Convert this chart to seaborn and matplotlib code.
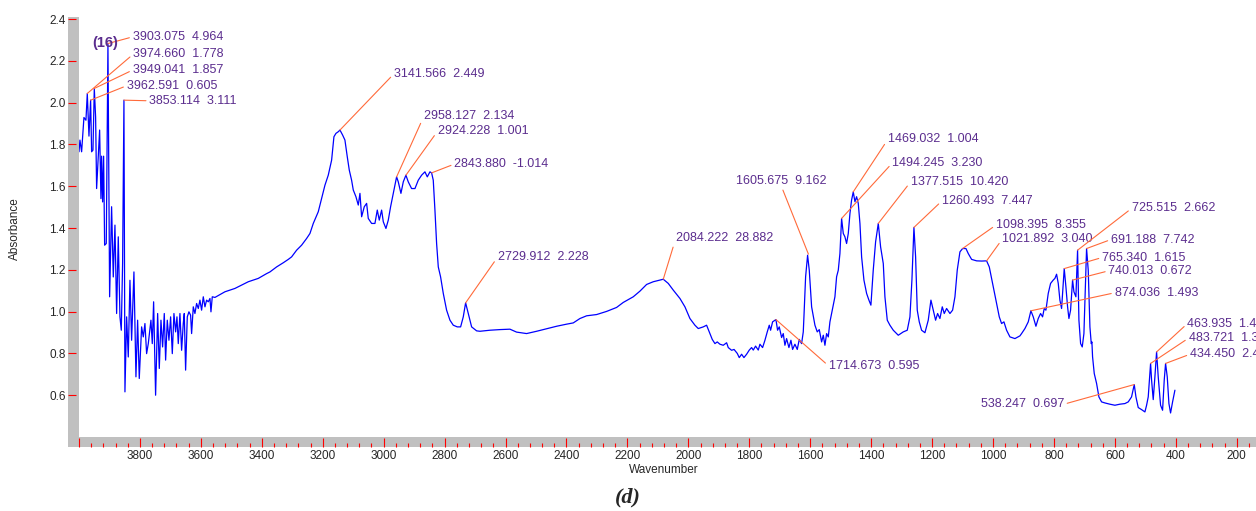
import pandas as pd
import seaborn as sns
import matplotlib
matplotlib.use("Agg")
import matplotlib.pyplot as plt
from matplotlib.patches import Rectangle
from matplotlib.ticker import MultipleLocator, FixedLocator, FuncFormatter

sns.set_theme(style="white")
plt.rcParams['font.family'] = ['Liberation Sans', 'DejaVu Sans']

# spectrum (wavenumber, absorbance)
wavenumber = [
    4000.0, 3996.9, 3991.4, 3983.8, 3977.2, 3972.8, 3967.3, 3961.9, 3958.6, 3954.2,
    3949.8, 3945.5, 3942.2, 3936.7, 3932.3, 3928.0, 3925.8, 3922.5, 3919.2, 3915.9,
    3910.5, 3905.0, 3899.5, 3893.0, 3887.5, 3882.0, 3876.5, 3871.1, 3865.6, 3861.2,
    3856.9, 3852.5, 3849.2, 3843.7, 3838.3, 3832.8, 3827.3, 3819.7, 3813.1, 3807.6,
    3802.2, 3794.5, 3789.0, 3783.6, 3778.1, 3772.6, 3763.9, 3759.5, 3755.1, 3748.6,
    3741.9, 3736.5, 3731.0, 3725.6, 3720.1, 3715.7, 3710.3, 3704.8, 3699.3, 3693.8,
    3688.4, 3682.9, 3678.5, 3674.2, 3668.7, 3663.2, 3657.8, 3654.5, 3650.1, 3644.6,
    3639.2, 3633.7, 3630.4, 3624.9, 3619.5, 3614.0, 3608.5, 3603.1, 3597.6, 3592.1,
    3586.6, 3581.2, 3575.7, 3570.2, 3566.9, 3562.6, 3553.8, 3521.0, 3488.2, 3466.3,
    3444.4, 3411.6, 3384.2,
    3373.3, 3351.4, 3329.5, 3313.1, 3302.2, 3285.8, 3269.4, 3253.0, 3242.0, 3231.1,
    3214.7, 3203.7, 3192.8, 3181.9, 3170.9, 3163.3, 3156.7, 3149.0, 3143.5, 3134.8,
    3127.2, 3119.5, 3112.9, 3105.3, 3099.8, 3091.1, 3083.4, 3077.9, 3072.4, 3063.7,
    3056.0, 3050.6, 3039.6, 3028.7, 3021.0, 3014.5, 3006.8, 3001.3, 2992.6, 2984.9,
    2977.3, 2968.5, 2957.6, 2952.1, 2943.4, 2935.7, 2927.0, 2919.3, 2908.4, 2897.4,
    2886.5, 2875.5, 2864.6, 2856.9, 2848.2, 2842.7, 2837.3, 2831.8, 2826.3, 2820.8,
    2813.2, 2804.4, 2793.5, 2782.5, 2771.6, 2758.5, 2747.5, 2738.8, 2731.1, 2722.4,
    2711.4, 2695.0,
    2684.1, 2651.3, 2618.5, 2585.6, 2563.8, 2531.0, 2498.1, 2465.3, 2432.5, 2399.7,
    2377.8, 2355.9, 2334.0, 2301.2, 2268.4, 2235.6, 2213.7, 2180.9, 2159.0, 2137.1,
    2115.3, 2093.4, 2082.4, 2066.0, 2049.6, 2027.7, 2011.3, 1994.9, 1978.5, 1967.5,
    1951.1, 1940.2, 1929.3, 1921.6, 1912.8, 1905.2, 1896.4, 1885.5, 1874.5, 1869.1,
    1858.1, 1850.0, 1839.5, 1833.0, 1825.3, 1817.6, 1808.9, 1800.1, 1792.5, 1787.0,
    1779.4, 1770.6, 1765.1, 1756.4, 1748.7, 1741.1, 1734.5, 1730.1, 1723.6, 1712.6,
    1707.2, 1701.7, 1694.0, 1688.6, 1683.1, 1677.6, 1670.0, 1663.4, 1657.9, 1650.3,
    1642.6, 1636.0, 1628.4, 1622.9, 1620.7, 1615.2, 1608.7, 1603.2, 1595.5, 1584.6,
    1577.0, 1570.4, 1562.7, 1557.2, 1551.8, 1546.3, 1540.8, 1535.4,
    1529.9, 1519.0, 1513.5, 1508.0, 1502.6, 1497.1, 1491.6, 1486.2, 1480.7, 1475.2,
    1469.7, 1464.3, 1458.8, 1453.3, 1447.9, 1442.4, 1436.9, 1431.4, 1423.8, 1415.0,
    1407.4, 1400.9, 1393.2, 1385.5, 1376.7, 1369.1, 1360.3, 1354.9, 1347.2, 1338.5,
    1327.5, 1311.1, 1294.7, 1281.6, 1272.8, 1266.3, 1259.7, 1254.2, 1248.8, 1242.2,
    1234.6, 1223.6, 1212.7, 1203.9, 1196.2, 1188.6, 1182.0, 1174.4, 1166.7, 1160.2,
    1152.5, 1141.5, 1132.8, 1125.1, 1117.5, 1108.7, 1099.9, 1089.0, 1081.4, 1070.4,
    1054.0, 1037.6, 1021.2, 1012.4, 1001.5, 990.6, 979.6, 972.0, 964.3, 955.6,
    944.6, 928.2, 911.8,
    906.4, 895.4, 884.5, 875.8, 868.1, 859.3, 851.7, 844.0, 837.5, 832.0,
    826.5, 818.9, 811.2, 802.5, 797.0, 791.5, 786.0, 780.6, 775.1, 766.4,
    760.9, 755.4, 751.0, 745.6, 739.0, 734.6, 728.1, 722.6, 718.2, 712.7,
    707.3, 701.8, 697.4, 693.1, 687.6, 682.1, 677.7, 675.6, 673.4, 667.9,
    660.2, 652.6, 643.8, 632.9, 616.5, 600.1, 583.7, 567.3, 556.3, 545.4,
    536.6, 531.1, 523.5, 512.5, 501.6, 496.1, 490.7, 483.0, 479.7, 474.3,
    468.8, 463.3, 457.9, 450.2, 443.6, 438.2, 433.8, 428.3, 422.8, 417.4,
    410.8, 403.1,
]
absorbance = [
    1.765, 1.821, 1.765, 1.929, 1.916, 2.044, 1.840, 2.012, 1.765, 1.773,
    2.068, 1.932, 1.589, 1.741, 1.869, 1.541, 1.744, 1.525, 1.744, 1.318,
    1.326, 2.283, 1.071, 1.502, 1.166, 1.414, 0.991, 1.358, 0.975, 0.911,
    1.230, 2.012, 0.616, 0.975, 0.783, 1.150, 0.863, 1.190, 0.688, 0.959,
    0.680, 0.927, 0.879, 0.943, 0.799, 0.847, 0.959, 0.847, 1.047, 0.600,
    0.991, 0.728, 0.959, 0.831, 0.991, 0.768, 0.959, 0.863, 0.975, 0.799,
    0.991, 0.903, 0.975, 0.847, 0.991, 0.815, 0.943, 0.991, 0.720, 0.975,
    0.999, 0.983, 0.895, 1.023, 0.991, 1.039, 1.015, 1.055, 1.007, 1.071,
    1.023, 1.055, 1.047, 1.063, 0.999, 1.071, 1.068, 1.095, 1.111, 1.127,
    1.143, 1.159, 1.182,
    1.190, 1.214, 1.234, 1.250, 1.262, 1.294, 1.318, 1.350, 1.374, 1.422,
    1.478, 1.542, 1.605, 1.653, 1.725, 1.837, 1.853, 1.861, 1.869, 1.845,
    1.821, 1.741, 1.677, 1.629, 1.582, 1.550, 1.510, 1.566, 1.454, 1.502,
    1.518, 1.446, 1.422, 1.422, 1.486, 1.438, 1.486, 1.430, 1.398, 1.438,
    1.502, 1.566, 1.645, 1.621, 1.566, 1.621, 1.653, 1.621, 1.589, 1.589,
    1.629, 1.653, 1.669, 1.645, 1.669, 1.664, 1.629, 1.486, 1.326, 1.214,
    1.166, 1.087, 1.007, 0.959, 0.935, 0.927, 0.927, 0.975, 1.042, 0.991,
    0.927, 0.908,
    0.906, 0.911, 0.914, 0.916, 0.902, 0.895, 0.906, 0.918, 0.930, 0.940,
    0.946, 0.967, 0.980, 0.986, 1.001, 1.020, 1.044, 1.071, 1.098, 1.130,
    1.143, 1.151, 1.155, 1.135, 1.103, 1.063, 1.023, 0.967, 0.935, 0.919,
    0.927, 0.935, 0.895, 0.867, 0.847, 0.855, 0.844, 0.839, 0.851, 0.828,
    0.815, 0.819, 0.800, 0.780, 0.796, 0.780, 0.796, 0.816, 0.828, 0.816,
    0.835, 0.816, 0.844, 0.828, 0.863, 0.903, 0.935, 0.911, 0.951, 0.962,
    0.911, 0.927, 0.876, 0.895, 0.839, 0.871, 0.828, 0.863, 0.819, 0.844,
    0.819, 0.867, 0.847, 0.903, 0.975, 1.167, 1.270, 1.198, 1.023, 0.935,
    0.903, 0.914, 0.855, 0.887, 0.839, 0.895, 0.879, 0.951,
    0.991, 1.071, 1.167, 1.198, 1.278, 1.446, 1.374, 1.358, 1.326, 1.374,
    1.470, 1.534, 1.573, 1.526, 1.550, 1.518, 1.422, 1.262, 1.151, 1.087,
    1.055, 1.031, 1.199, 1.334, 1.422, 1.310, 1.230, 1.071, 0.959, 0.935,
    0.911, 0.887, 0.903, 0.911, 0.975, 1.151, 1.403, 1.262, 1.007, 0.951,
    0.911, 0.899, 0.959, 1.055, 1.007, 0.959, 0.991, 0.967, 1.023, 0.991,
    1.015, 0.991, 1.007, 1.071, 1.199, 1.286, 1.302, 1.302, 1.278, 1.250,
    1.243, 1.242, 1.243, 1.214, 1.135, 1.055, 0.975, 0.943, 0.951, 0.911,
    0.879, 0.871, 0.884,
    0.895, 0.919, 0.951, 1.004, 0.975, 0.930, 0.967, 0.991, 0.975, 1.015,
    1.007, 1.087, 1.135, 1.151, 1.159, 1.179, 1.135, 1.055, 1.015, 1.206,
    1.119, 1.023, 0.967, 1.007, 1.151, 1.095, 1.071, 1.294, 0.959, 0.847,
    0.831, 0.895, 1.103, 1.302, 1.198, 0.927, 0.847, 0.855, 0.784, 0.704,
    0.656, 0.592, 0.568, 0.563, 0.557, 0.552, 0.557, 0.560, 0.568, 0.592,
    0.651, 0.592, 0.541, 0.531, 0.520, 0.552, 0.592, 0.752, 0.672, 0.579,
    0.688, 0.807, 0.688, 0.552, 0.528, 0.672, 0.752, 0.688, 0.560, 0.515,
    0.568, 0.624,
]

# peak labels: position number, second value, and the point the leader line hits
peak_wn = [3903.075, 3974.660, 3949.041, 3962.591, 3853.114, 3141.566, 2958.127,
           2924.228, 2843.880, 2729.912, 2084.222, 1605.675, 1714.673, 1469.032,
           1494.245, 1377.515, 1260.493, 1098.395, 1021.892, 725.515, 691.188,
           765.340, 740.013, 874.036, 463.935, 483.721, 434.450, 538.247]
peak_val = ["4.964", "1.778", "1.857", "0.605", "3.111", "2.449", "2.134",
            "1.001", "-1.014", "2.228", "28.882", "9.162", "0.595", "1.004",
            "3.230", "10.420", "7.447", "8.355", "3.040", "2.662", "7.742",
            "1.615", "0.672", "1.493", "1.4", "1.3", "2.4", "0.697"]
anchor_wn = [3905.0, 3972.8, 3949.8, 3961.9, 3852.5, 3143.5, 2957.6, 2927.0,
             2842.7, 2731.1, 2082.4, 1606.0, 1712.6, 1459.0, 1497.1, 1376.7,
             1259.7, 1099.9, 1021.2, 722.6, 693.1, 766.4, 739.0, 875.8,
             463.3, 483.0, 433.8, 536.6]
anchor_abs = [2.283, 2.044, 2.068, 2.012, 2.012, 1.869, 1.645, 1.653, 1.664,
              1.042, 1.155, 1.275, 0.962, 1.573, 1.446, 1.422, 1.403, 1.302,
              1.243, 1.294, 1.302, 1.206, 1.151, 1.004, 0.807, 0.752, 0.752,
              0.651]

# where the label texts sit (layout)
label_x = [3824.0, 3822.0, 3824.0, 3843.7, 3769.5, 2966.4, 2867.9, 2822.9, 2768.4,
           2626.0, 2040.8, 1694.0, 1539.4, 1345.4, 1330.3, 1270.6, 1167.8, 990.6,
           969.3, 545.3, 613.2, 642.4, 621.4, 601.4, 362.1, 358.5, 353.9, 767.4]
label_y = [2.315, 2.232, 2.156, 2.081, 2.009, 2.138, 1.936, 1.864, 1.706,
           1.261, 1.353, 1.626, 0.740, 1.824, 1.712, 1.621, 1.530, 1.414,
           1.348, 1.494, 1.345, 1.259, 1.195, 1.090, 0.943, 0.873, 0.796, 0.557]
label_ha = ["left"] * 11 + ["center"] + ["left"] * 15 + ["right"]

purple = "#5b2d8e"
orange = "#ff6a3a"
W, H = 1256, 511

df = pd.DataFrame({"Wavenumber": wavenumber, "Absorbance": absorbance})

fig = plt.figure(figsize=(W / 100, H / 100), dpi=100)
ax = fig.add_axes([79 / W, 74 / H, 1177 / W, 420 / H])

# grey frame bands behind the ticks
fig.patches.append(Rectangle((68 / W, 64 / H), 11 / W, 430 / H, transform=fig.transFigure,
                             facecolor="#c0c0c0", edgecolor="none", zorder=-1))
fig.patches.append(Rectangle((68 / W, 64 / H), 1 - 68 / W, 10 / H, transform=fig.transFigure,
                             facecolor="#c0c0c0", edgecolor="none", zorder=-1))

sns.lineplot(data=df, x="Wavenumber", y="Absorbance", ax=ax, color="#0000ff",
             linewidth=0.9, estimator=None, sort=False)

ax.set_xlim(4000, 137)
ax.set_ylim(0.40, 2.41)
ax.grid(False)

for side in ["left", "bottom", "top", "right"]:
    ax.spines[side].set_visible(False)
ax.spines["left"].set_position(("outward", 11 * 0.72))
ax.spines["bottom"].set_position(("outward", 10 * 0.72))

ax.xaxis.set_major_locator(MultipleLocator(200))
ax.xaxis.set_minor_locator(MultipleLocator(40))
ax.xaxis.set_major_formatter(FuncFormatter(lambda v, p: "" if v > 3999 else f"{v:.0f}"))
ax.yaxis.set_major_locator(FixedLocator([0.6, 0.8, 1.0, 1.2, 1.4, 1.6, 1.8, 2.0, 2.2, 2.4]))
ax.yaxis.set_major_formatter(FuncFormatter(lambda v, p: f"{v:.1f}"))

ax.tick_params(axis="x", which="major", direction="in", length=6.5, width=0.8,
               color="red", labelsize=8.5, pad=2, bottom=True, top=False)
ax.tick_params(axis="x", which="minor", direction="in", length=3, width=0.8,
               color="red", bottom=True, top=False)
ax.tick_params(axis="y", which="major", direction="in", length=6, width=0.8,
               color="red", labelsize=8.5, pad=1.5, left=True, right=False)

ax.set_xlabel("Wavenumber", fontsize=8.5)
ax.xaxis.set_label_coords(0.497, -0.0786)
ax.xaxis.label.set_va("center")
ax.set_ylabel("Absorbance", fontsize=8.5)
ax.yaxis.set_label_coords(-0.0544, 0.495)
ax.yaxis.label.set_va("center")

relpos = {"left": (0, 0.5), "right": (1, 0.5), "center": (0.5, 0)}
for i in range(len(peak_wn)):
    ha = label_ha[i]
    ax.annotate(f"{peak_wn[i]:.3f}  {peak_val[i]}",
                xy=(anchor_wn[i], anchor_abs[i]),
                xytext=(label_x[i], label_y[i]), textcoords="data",
                ha=ha, va="center", fontsize=9, color=purple,
                annotation_clip=False,
                arrowprops=dict(arrowstyle="-", color=orange, lw=0.8,
                                relpos=relpos[ha], shrinkA=0, shrinkB=0))

ax.text(3913, 2.285, "(16)", ha="center", va="center", fontsize=10.5,
        fontweight="bold", color=purple)

fig.text(0.5, 1 - 497 / H, "(d)", ha="center", va="center", fontsize=16,
         family="Liberation Serif", style="italic", weight="bold")

fig.savefig("out.png", dpi=100)
